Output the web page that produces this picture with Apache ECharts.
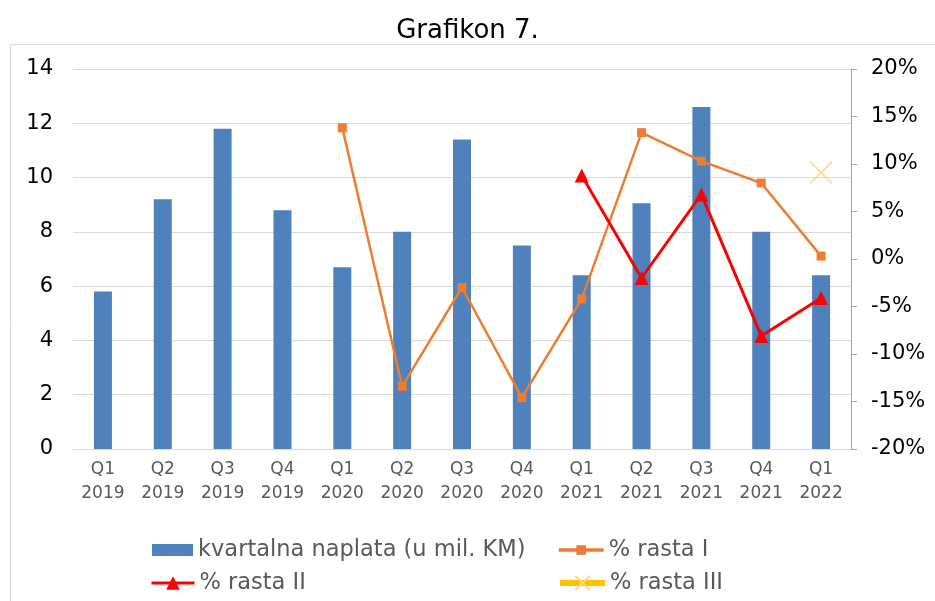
<!DOCTYPE html>
<html>
<head>
<meta charset="utf-8">
<script src="https://cdn.jsdelivr.net/npm/echarts@6/dist/echarts.min.js"></script>
<style>html,body{margin:0;padding:0;background:#fff}#c{width:935px;height:601px}</style>
</head>
<body>
<div id="c"></div>
<script>
var categories = ['Q1\n2019','Q2\n2019','Q3\n2019','Q4\n2019','Q1\n2020','Q2\n2020','Q3\n2020','Q4\n2020','Q1\n2021','Q2\n2021','Q3\n2021','Q4\n2021','Q1\n2022'];
var naplata = [5.8, 9.2, 11.8, 8.8, 6.7, 8.0, 11.4, 7.5, 6.4, 9.05, 12.6, 8.0, 6.4];
var rastaI = [null, null, null, null, 13.8, -13.4, -3.0, -14.6, -4.2, 13.3, 10.3, 8.0, 0.3];
var rastaII = [null, null, null, null, null, null, null, null, 8.8, -2.0, 6.8, -8.1, -4.1];
var rastaIII = [null, null, null, null, null, null, null, null, null, null, null, null, 9.1];
var names = ['kvartalna naplata (u mil. KM)', '% rasta I', '% rasta II', '% rasta III'];

var FONT = 'DejaVu Sans';
var legText = {fontFamily: FONT, fontSize: 22.5, color: '#595959', lineHeight: 24};
var X_PATH = 'path://M0,0L10,10M10,0L0,10';
var chart = echarts.init(document.getElementById('c'), null, {renderer: 'canvas'});
chart.setOption({
  animation: false,
  textStyle: {fontFamily: FONT},
  title: {text: 'Grafikon 7.', left: 'center', top: 13, textStyle: {fontFamily: FONT, fontSize: 26, fontWeight: 'normal', color: '#000'}},
  graphic: [{type: 'rect', shape: {x: 10.5, y: 44.5, width: 940, height: 600}, style: {fill: 'none', stroke: '#d9d9d9', lineWidth: 1}, silent: true}],
  legend: [
    {data: [{name: names[0], icon: 'rect'}], left: 147, top: 533, itemWidth: 41, itemHeight: 12, textStyle: legText},
    {data: [{name: names[2], lineStyle: {width: 3}}], left: 145, top: 566, itemWidth: 43, itemHeight: 17, textStyle: legText},
    {data: [{name: names[1], lineStyle: {width: 3.5}}], left: 552, top: 533, itemWidth: 45, itemHeight: 12, textStyle: legText},
    {data: [{name: names[3], lineStyle: {width: 6}}], left: 552, top: 566, itemWidth: 45, itemHeight: 18, textStyle: legText}
  ],
  grid: {left: 73, right: 84, top: 69, bottom: 152, containLabel: false},
  xAxis: {
    type: 'category', data: categories,
    axisLine: {lineStyle: {color: '#d9d9d9', width: 1}},
    axisTick: {show: false},
    axisLabel: {fontFamily: FONT, fontSize: 17, color: '#595959', lineHeight: 24, margin: 9, interval: 0}
  },
  yAxis: [
    {type: 'value', min: 0, max: 14, interval: 2, position: 'left',
     axisLine: {show: false}, axisTick: {show: false},
     splitLine: {lineStyle: {color: '#d9d9d9', width: 1}},
     axisLabel: {fontFamily: FONT, fontSize: 21, color: '#000', margin: 20}},
    {type: 'value', min: -20, max: 20, interval: 5, position: 'right',
     axisLine: {show: true, lineStyle: {color: '#a6a6a6', width: 1}},
     axisTick: {show: true, inside: false, length: 6, lineStyle: {color: '#a6a6a6'}},
     splitLine: {show: false},
     axisLabel: {fontFamily: FONT, fontSize: 21, color: '#000', margin: 20, formatter: '{value}%'}}
  ],
  series: [
    {name: names[0], type: 'bar', data: naplata, yAxisIndex: 0, barWidth: 18, itemStyle: {color: '#4F81BD'}, z: 1},
    {name: names[1], type: 'line', data: rastaI, yAxisIndex: 1, symbol: 'rect', symbolSize: 9,
     lineStyle: {color: '#ED7D31', width: 2.5}, itemStyle: {color: '#ED7D31'}, z: 3},
    {name: names[2], type: 'line', data: rastaII, yAxisIndex: 1, symbol: 'triangle', symbolSize: 14,
     lineStyle: {color: '#FF0000', width: 3}, itemStyle: {color: '#FF0000'}, z: 4},
    {name: names[3], type: 'line', data: rastaIII, yAxisIndex: 1, symbol: X_PATH, symbolSize: 22,
     lineStyle: {color: '#FFC000', width: 6},
     itemStyle: {color: 'none', borderColor: '#F5DC7A', borderWidth: 1.5}, z: 5}
  ]
});
</script>
</body>
</html>
